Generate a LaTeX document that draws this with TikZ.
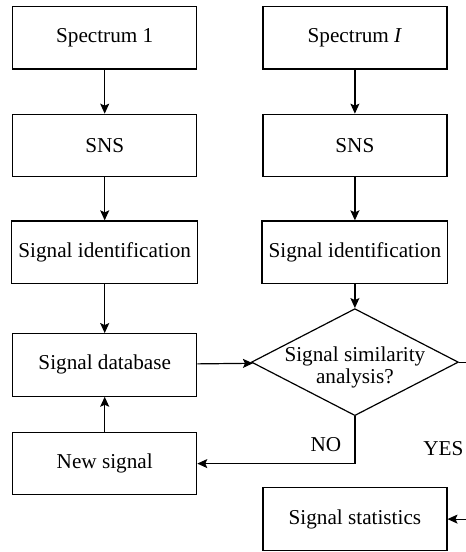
\documentclass[tikz,border=0pt]{standalone}
\usepackage{fontspec}
\setmainfont{Liberation Serif}
\usetikzlibrary{positioning, arrows.meta, shapes.geometric}

\begin{document}
\begin{tikzpicture}[
  box/.style={draw, line width=0.6pt, minimum width=92pt, minimum height=31.25pt,
              align=center, font=\fontsize{10.6pt}{12.6pt}\selectfont},
  decision/.style={draw, diamond, aspect=1.93, line width=0.6pt, inner sep=-4pt,
                   minimum width=103.5pt, minimum height=53.5pt, align=center,
                   font=\fontsize{10.6pt}{11pt}\selectfont},
  arr/.style={-{Stealth[length=5pt, width=4.5pt, inset=1pt]}, line width=0.6pt},
  lbl/.style={font=\fontsize{10.6pt}{12.6pt}\selectfont, inner sep=0pt},
]

% Frame (the figure is cut at the right)
\useasboundingbox (0,0) rectangle (233pt,-276pt);
\clip (0,0) rectangle (233pt,-276pt);

% Left column
\node[box] (spec1) at (52.35pt,-18.9pt) {Spectrum 1};
\node[box, below=22pt of spec1] (sns1) {SNS};
\node[box, below=21.5pt of sns1] (ident1) {Signal identification};
\node[box, below=24.5pt of ident1] (db) {Signal database};
\node[box, below=17.5pt of db] (newsig) {New signal};

% Right column
\node[box, right=32.5pt of spec1] (specI) {Spectrum \textit{I}};
\node[box, below=22pt of specI] (sns2) {SNS};
\node[box, below=21.5pt of sns2] (ident2) {Signal identification};
\node[decision, below=12pt of ident2] (sim) {\rule{0pt}{13pt}Signal similarity\\analysis?};
\node[box, below=35.5pt of sim] (stats) {Signal statistics};

\coordinate[right=9pt of sim.east] (yesturn);

% Main flow arrows
\draw[arr] (spec1) -- (sns1);
\draw[arr] (sns1) -- (ident1);
\draw[arr] (ident1) -- (db);
\draw[arr] (specI) -- (sns2);
\draw[arr] (sns2) -- (ident2);
\draw[arr] (ident2) -- (sim);
\draw[arr] (db) -- (sim);
\draw[arr] (newsig) -- (db);

% Decision branches
\draw[arr] (sim.south) |- node[lbl, pos=0.3, left=6.5pt] {NO} (newsig.east);
\draw[arr] (sim.east) -- (yesturn) |- node[lbl, pos=0.275, left=6.5pt] {YES} (stats.east);

\end{tikzpicture}
\end{document}
